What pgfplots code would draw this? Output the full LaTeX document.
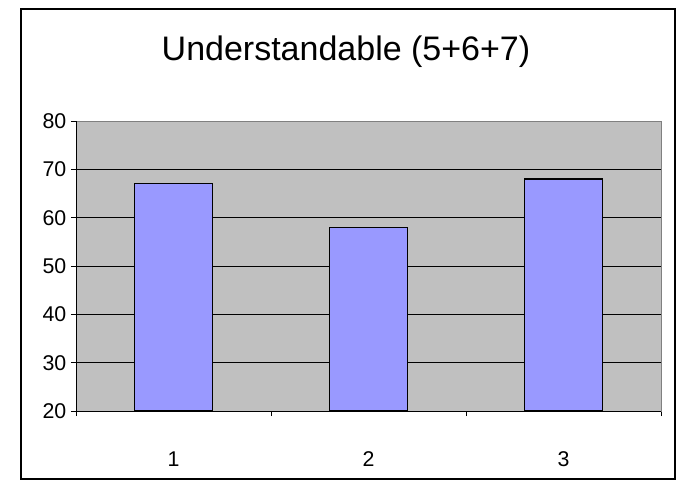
\documentclass[border=0pt]{standalone}
\usepackage{fontspec}
\setmainfont{Liberation Sans}
\usepackage{pgfplots}
\pgfplotsset{compat=1.18}
\definecolor{plotgray}{HTML}{C0C0C0}
\definecolor{barblue}{HTML}{9999FF}
\definecolor{edgegray}{HTML}{808080}

\begin{document}
\begin{tikzpicture}[x=0.75pt,y=0.75pt]
% canvas measured in pixel units, y upward
\path (0,0) rectangle (677,480);
\draw[line width=1pt] (21,1) rectangle (675,471);
\node[anchor=base, inner sep=0pt, font=\fontsize{25.5}{30}\selectfont] at (346,420) {Understandable (5+6+7)};
\begin{axis}[
  at={(57pt,51.75pt)}, anchor=south west,
  scale only axis, width=438.75pt, height=217.5pt,
  xmin=0.5, xmax=3.5, ymin=20, ymax=80,
  ytick={20,30,...,80},
  xtick={1,2,3},
  minor xtick={0.5,1.5,2.5,3.5},
  major x tick style={draw=none},
  tick align=outside, tick pos=left,
  major tick length=3.75pt, minor tick length=3.75pt,
  axis background/.style={fill=plotgray},
  axis line style={edgegray, line width=0.75pt},
  tick style={black, line width=0.75pt},
  tick label style={font=\fontsize{16}{19}\selectfont},
  xticklabel style={yshift=-23pt},
  /pgf/number format/assume math mode=true,
]
\pgfplotsinvokeforeach{30,40,50,60,70}{
  \draw[black, line width=0.75pt] (axis cs:0.5,#1) -- (axis cs:3.5,#1);
}
\addplot[ybar, bar width=58.5pt, fill=barblue, draw=black, line width=0.9pt]
  coordinates {(1,67) (2,58) (3,68)};
\draw[black, line width=0.75pt] (rel axis cs:0,1) -- (rel axis cs:0,0) -- (rel axis cs:1,0);
\end{axis}
\end{tikzpicture}
\end{document}
